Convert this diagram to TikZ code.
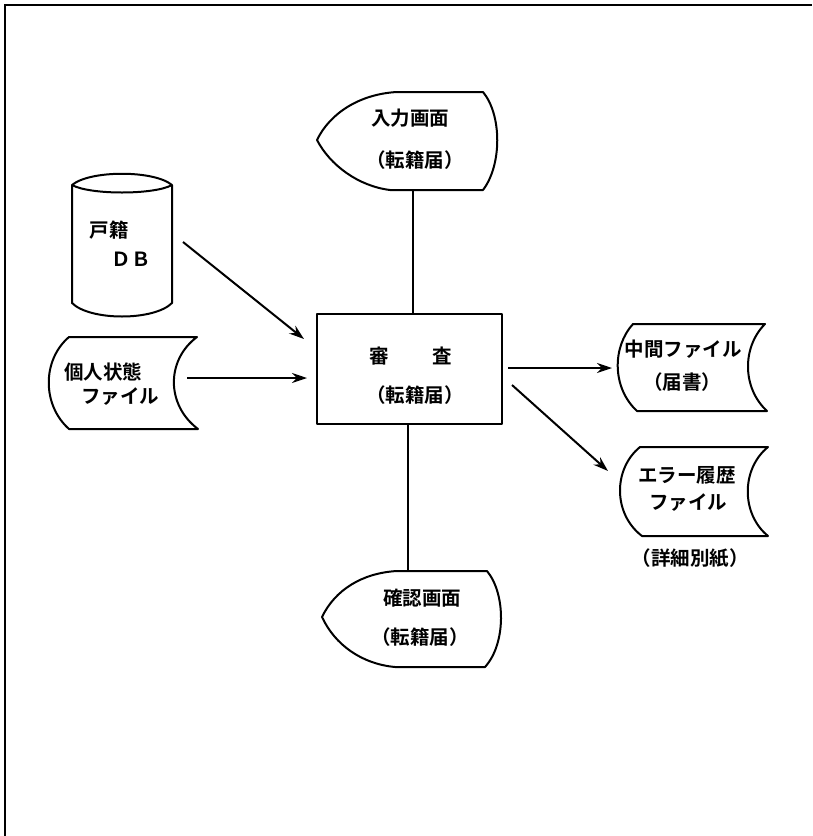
\documentclass[tikz,border=0pt]{standalone}
\usepackage{fontspec}
\newfontfamily\jp{Noto Sans CJK JP}[BoldFont={* Bold}]
\usetikzlibrary{arrows.meta}
\newcommand{\kakko}[1]{（#1）}
\begin{document}
\begin{tikzpicture}[x=1pt,y=-1pt,
  ln/.style={line width=2pt, line join=round},
  arr/.style={ln, -{Stealth[length=15pt,width=10pt,inset=5pt]}},
  lbl/.style={inner sep=0pt, font=\jp\bfseries\fontsize{19.5}{22}\selectfont},
  procbox/.style={ln, draw, rectangle, minimum width=185pt, minimum height=110pt, inner sep=0pt}]
\useasboundingbox (0,0) rectangle (812,836);
% frame
\draw[line width=1.8pt] (5,836) -- (5,5) -- (812,5);

% central process box
\node[procbox] (shinsa) at (409.5,369) {};
\node[lbl] (shinsaA) at (379,356) {審};
\node[lbl] (shinsaB) at (442,356) {査};
\node[lbl] (shinsaC) at (415,395) {\kakko{転籍届}};

% top display: 入力画面
\draw[ln] (317,140) .. controls (330,113) and (360,94) .. (397,92) -- (483,92)
  .. controls (502,115) and (502,165) .. (483,190) -- (390,190)
  .. controls (358,186) and (330,165) .. cycle;
\node[lbl] (nyuA) at (410,118) {入力画面};
\node[lbl] (nyuB) at (415,160) {\kakko{転籍届}};
\coordinate (nyuOut) at (413,190);

% bottom display: 確認画面
\draw[ln] (322,617) .. controls (335,590) and (362,573) .. (397,571) -- (487,571)
  .. controls (506,594) and (506,644) .. (485,667) -- (395,667)
  .. controls (362,664) and (335,645) .. cycle;
\node[lbl] (kakA) at (422,598) {確認画面};
\node[lbl] (kakB) at (420,637) {\kakko{転籍届}};
\coordinate (kakIn) at (408,571);

% cylinder: 戸籍DB
\draw[ln] (72,185) .. controls (90,170) and (154,170) .. (172,185)
  -- (172,303) .. controls (154,321) and (90,321) .. (72,303) -- cycle;
\draw[ln] (72,185) .. controls (90,195) and (154,195) .. (172,185);
\node[lbl] (dbA) at (109,230) {戸籍};
\node[lbl] (dbB) at (131,259) {ＤＢ};
\coordinate (dbOut) at (183,242);
\coordinate (dbTip) at (304,339);

% stored data: 個人状態ファイル
\draw[ln] (69,337) -- (197,337) .. controls (166,360) and (166,405) .. (198,429)
  -- (69,429) .. controls (42,405) and (42,360) .. cycle;
\node[lbl] (kjA) at (103,372) {個人状態};
\node[lbl] (kjB) at (120,397) {ファイル};
\coordinate (kjOut) at (187,378);

% stored data: 中間ファイル
\draw[ln] (633,324) -- (765,324) .. controls (742,347) and (742,388) .. (767,411)
  -- (637,411) .. controls (612,388) and (612,347) .. cycle;
\node[lbl] (mfA) at (683,349) {中間ファイル};
\node[lbl] (mfB) at (682,382) {\kakko{届書}};
\coordinate (mfIn) at (612,368);

% stored data: エラー履歴ファイル
\draw[ln] (640,447) -- (768,447) .. controls (741,469) and (741,514) .. (768,536)
  -- (642,536) .. controls (613,514) and (613,469) .. cycle;
\node[lbl] (erA) at (687,475) {エラー履歴};
\node[lbl] (erB) at (688,503) {ファイル};
\node[lbl] (erC) at (690,558) {\kakko{詳細別紙}};
\coordinate (erIn) at (608,471);
\coordinate (shOut) at (512,385);

% connectors
\draw[ln] (nyuOut) -- (nyuOut |- shinsa.north);
\draw[ln] (kakIn |- shinsa.south) -- (kakIn);
\draw[arr] (dbOut) -- (dbTip);
\draw[arr, shorten >=9pt] (kjOut) -- (kjOut -| shinsa.west);
\draw[arr, shorten <=5pt] (shinsa.east |- mfIn) -- (mfIn);
\draw[arr] (shOut) -- (erIn);
\end{tikzpicture}
\end{document}
